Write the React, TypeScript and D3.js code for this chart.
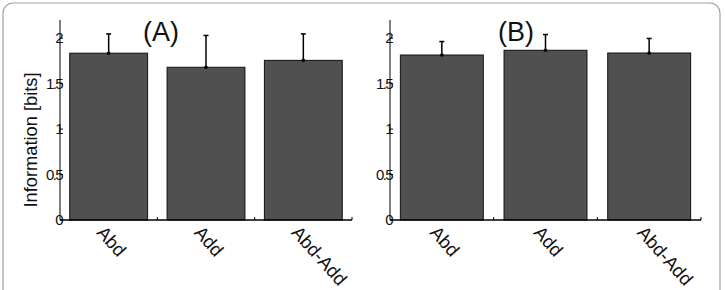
import React, { useEffect, useRef } from "react";
import * as d3 from "d3";

const categories = ["Abd", "Add", "Abd-Add"];
const valuesA = [1.835, 1.68, 1.756];
const errTopA = [2.047, 2.03, 2.047];
const valuesB = [1.815, 1.867, 1.837];
const errTopB = [1.963, 2.04, 1.997];
const yTicks = [0, 0.5, 1, 1.5, 2];
const yTickLabels = ["0", "0.5", "1", "1.5", "2"];

const panels = [
  { title: "(A)", values: valuesA, errTop: errTopA, x0: 60, x1: 352, titleX: 161, ylabel: true },
  { title: "(B)", values: valuesB, errTop: errTopB, x0: 390, x1: 701, titleX: 516, ylabel: false },
];

const App = () => {
  const ref = useRef<SVGSVGElement>(null);

  useEffect(() => {
    const width = 725;
    const height = 290;
    const svg = d3.select(ref.current).attr("width", width).attr("height", height);
    svg.selectAll("*").remove();

    // outer frame
    svg
      .append("rect")
      .attr("x", 3)
      .attr("y", 3)
      .attr("width", 717)
      .attr("height", 310)
      .attr("rx", 10)
      .attr("fill", "white")
      .attr("stroke", "#a0a0a0")
      .attr("stroke-width", 1.2);

    const font = "Liberation Sans, Arial, Helvetica, sans-serif";

    panels.forEach((p) => {
      const g = svg.append("g");

      const x = d3
        .scaleBand()
        .domain(categories)
        .range([p.x0, p.x1])
        .paddingInner(0.2)
        .paddingOuter(0.1);

      const y = d3.scaleLinear().domain([0, 2.2]).range([220, 20]);

      g.selectAll(".bar")
        .data(categories)
        .enter()
        .append("rect")
        .attr("x", (d) => x(d)!)
        .attr("y", (d, i) => y(p.values[i]))
        .attr("width", x.bandwidth())
        .attr("height", (d, i) => y(0) - y(p.values[i]))
        .attr("fill", "#505050")
        .attr("stroke", "#111")
        .attr("stroke-width", 1);

      // error bars
      categories.forEach((c, i) => {
        const cx = x(c)! + x.bandwidth() / 2;
        g.append("line")
          .attr("x1", cx)
          .attr("x2", cx)
          .attr("y1", y(p.values[i]))
          .attr("y2", y(p.errTop[i]))
          .attr("stroke", "#000")
          .attr("stroke-width", 1.5);
        g.append("line")
          .attr("x1", cx - 2.5)
          .attr("x2", cx + 2.5)
          .attr("y1", y(p.errTop[i]))
          .attr("y2", y(p.errTop[i]))
          .attr("stroke", "#000")
          .attr("stroke-width", 1.5);
        g.append("circle")
          .attr("cx", cx)
          .attr("cy", y(p.values[i]))
          .attr("r", 1.8)
          .attr("fill", "#000");
      });

      // y axis
      g.append("line")
        .attr("x1", p.x0)
        .attr("x2", p.x0)
        .attr("y1", y(2.2))
        .attr("y2", y(0))
        .attr("stroke", "#000")
        .attr("stroke-width", 1);
      yTicks.forEach((t, i) => {
        g.append("line")
          .attr("x1", p.x0)
          .attr("x2", p.x0 + 3)
          .attr("y1", y(t))
          .attr("y2", y(t))
          .attr("stroke", "#000");
        g.append("text")
          .attr("x", p.x0 + 2)
          .attr("y", y(t))
          .attr("dy", "0.35em")
          .attr("text-anchor", "end")
          .attr("font-family", font)
          .attr("font-size", 15)
          .attr("letter-spacing", -1.6)
          .attr("fill", "#111")
          .text(yTickLabels[i]);
      });

      // x axis
      g.append("line")
        .attr("x1", p.x0)
        .attr("x2", p.x1)
        .attr("y1", y(0))
        .attr("y2", y(0))
        .attr("stroke", "#000")
        .attr("stroke-width", 1.5);
      const step = x.step();
      [1, 2, 3].forEach((k) => {
        const tx = p.x0 + k * step;
        g.append("line")
          .attr("x1", tx)
          .attr("x2", tx)
          .attr("y1", y(0))
          .attr("y2", y(0) - 3)
          .attr("stroke", "#000");
      });
      categories.forEach((c) => {
        const cx = x(c)! + x.bandwidth() / 2;
        g.append("text")
          .attr("transform", `translate(${cx - 8},${y(0) + 9}) rotate(48)`)
          .attr("text-anchor", "start")
          .attr("dy", "0.35em")
          .attr("font-family", font)
          .attr("font-size", 18.5)
          .attr("fill", "#111")
          .text(c);
      });

      g.append("text")
        .attr("x", p.titleX)
        .attr("y", 41)
        .attr("text-anchor", "middle")
        .attr("font-family", font)
        .attr("font-size", 27)
        .attr("fill", "#111")
        .text(p.title);

      if (p.ylabel) {
        g.append("text")
          .attr("transform", `translate(37,${y(1.1) + 20}) rotate(-90)`)
          .attr("text-anchor", "middle")
          .attr("font-family", font)
          .attr("font-size", 18.3)
          .attr("fill", "#111")
          .text("Information [bits]");
      }
    });
  }, []);

  return <svg ref={ref} style={{ position: "absolute", left: 0, top: 0, display: "block" }}></svg>;
};

export default App;
